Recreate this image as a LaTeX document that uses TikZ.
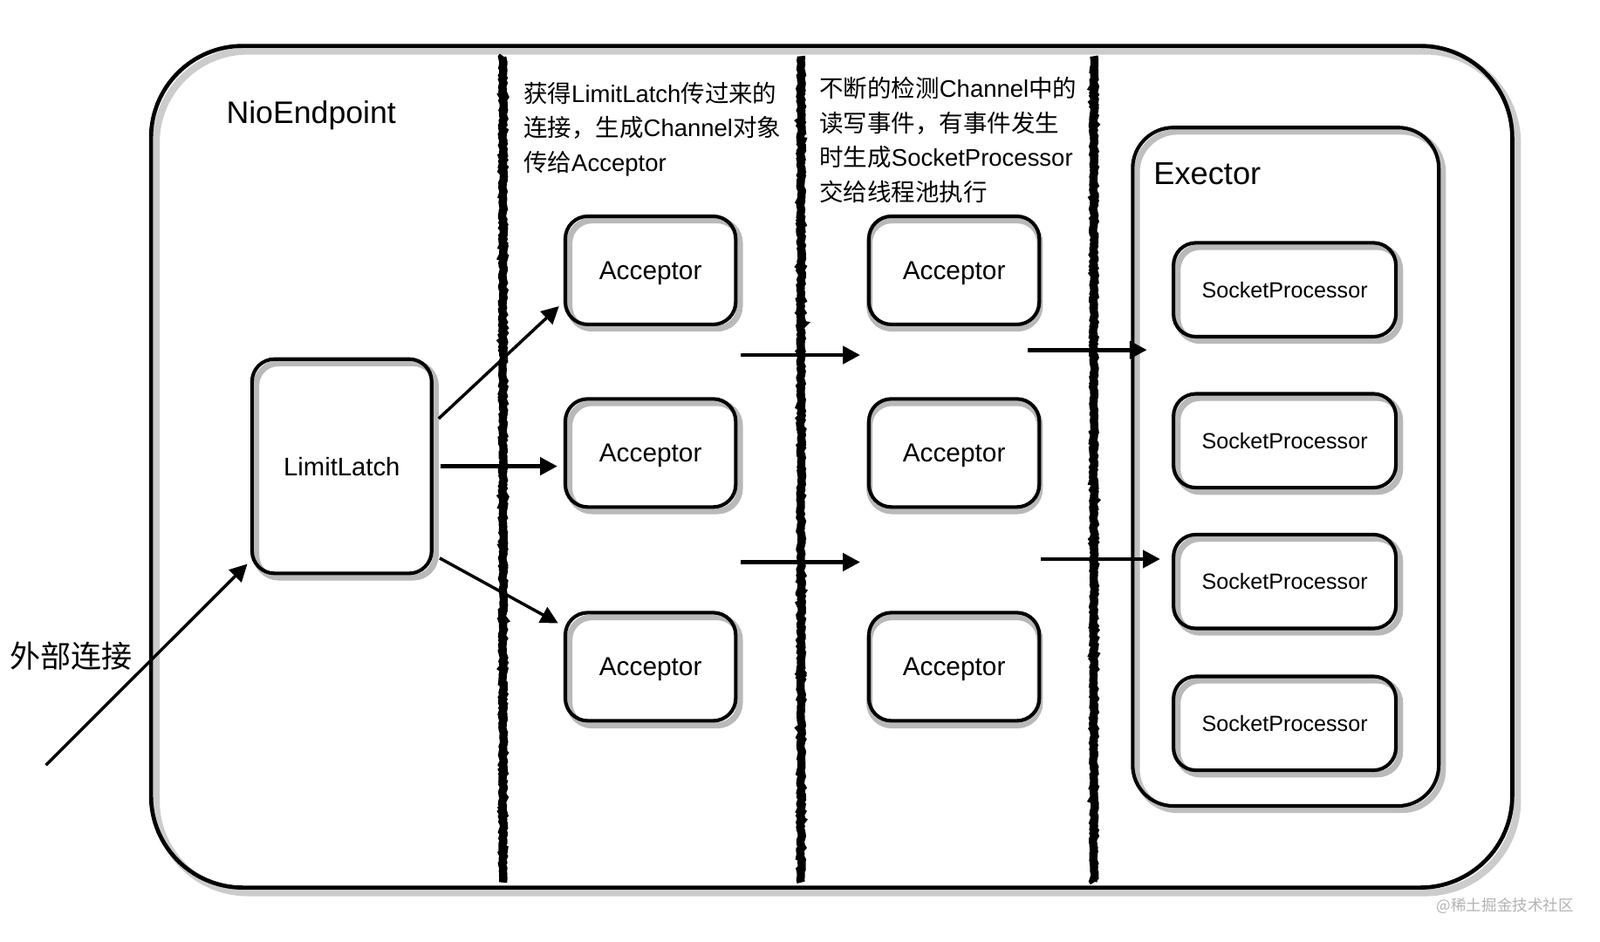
\documentclass[tikz,border=0pt]{standalone}
\usepackage{fontspec}
\setmainfont{Liberation Sans}
\newfontfamily\cjk{Noto Sans CJK SC}
\usetikzlibrary{calc,positioning,decorations.pathmorphing,arrows.meta}

\begin{document}
\begin{tikzpicture}[x=1pt,y=-1pt,
	box/.style={draw, line width=3.5pt, rounded corners=22pt, inner sep=0pt, text depth=0pt},
	shade/.style={draw=gray!55, line width=6pt, rounded corners=22pt},
	accbox/.style={box, minimum width=167pt, minimum height=106pt, font=\fontsize{25.5}{25.5}\selectfont},
	procbox/.style={box, minimum width=218pt, minimum height=92pt, font=\fontsize{21.5}{21.5}\selectfont},
	flow/.style={line width=4pt, -{Triangle[length=17pt,width=17pt]}},
	thinflow/.style={flow, line width=3pt},
	note/.style={align=left, anchor=north west, inner sep=0pt, font=\fontsize{23.5}{34}\selectfont}]
			\useasboundingbox (0,0) rectangle (1568,923);
			% outer frame
			\draw[gray!40, line width=7pt, rounded corners=90pt] (153,50) rectangle (1487,875);
			\draw[line width=4pt, rounded corners=90pt] (148,45) rectangle (1482,870);
			\foreach \x in {493,785,1072}
				\draw[line width=8pt, decorate, decoration={random steps, segment length=2pt, amplitude=1pt}] (\x,55) -- (\x,865);
			\node[font=\fontsize{30.5}{30.5}\selectfont] (nio) at (305,113) {NioEndpoint};
			\node[note] (note1) at (513,80) {{\cjk 获得}LimitLatch{\cjk 传过来的}\\{\cjk 连接，生成}Channel{\cjk 对象}\\{\cjk 传给}Acceptor};
			\node[note] (note2) at (803,75) {{\cjk 不断的检测}Channel{\cjk 中的}\\{\cjk 读写事件，有事件发生}\\{\cjk 时生成}SocketProcessor\\{\cjk 交给线程池执行}};
			% boxes
			\draw[shade] (251,356) rectangle (427,566);
			\node[box, minimum width=176pt, minimum height=210pt, font=\fontsize{25}{25}\selectfont] (latch) at (335,457) {LimitLatch};
			\foreach \x in {558,852}
				\foreach \y in {216,395,605}
					\draw[shade] (\x,\y) rectangle ++(167,106);
			\node[accbox] (a11) at (637.5,265) {Acceptor};
			\node[accbox] (a12) at (637.5,444) {Acceptor};
			\node[accbox] (a13) at (637.5,653.5) {Acceptor};
			\node[accbox, right=127pt of a11] (a21) {Acceptor};
			\node[accbox, right=127pt of a12] (a22) {Acceptor};
			\node[accbox, right=127pt of a13] (a23) {Acceptor};
			\draw[gray!50, line width=6pt, rounded corners=40pt] (1114,129) rectangle (1414,794);
			\draw[line width=3.5pt, rounded corners=40pt] (1110,125) rectangle (1410,790);
			\node[anchor=west, font=\fontsize{31}{31}\selectfont] (exec) at (1127,170) {Exector};
			\foreach \y/\n in {284/1,432/2,570/3,709/4}{
				\draw[shade] (1154,\y-42) rectangle ++(218,92);
				\node[procbox] (p\n) at (1259,\y) {SocketProcessor};
			}
			% arrows
			\coordinate (ext) at (45,750);
			\node[font=\fontsize{30}{30}\selectfont] (extlabel) at (70,643) {\cjk 外部连接};
			\draw[thinflow, shorten >=4pt] (ext) -- (latch.226);
			\draw[thinflow, shorten <=7pt, shorten >=6pt] (latch.25) -- (a11.200);
			\draw[flow, shorten <=7pt, shorten >=6pt] (latch.east) -- (latch.east -| a12.west);
			\draw[thinflow, shorten <=7pt, shorten >=6pt] (latch.-44) -- (a13.155);
			\coordinate (m1) at (726,348);
			\coordinate (n1) at (843,348);
			\coordinate (m2) at (726,551);
			\coordinate (n2) at (843,551);
			\coordinate (e1) at (1007,343);
			\coordinate (f1) at (1124,343);
			\coordinate (e2) at (1020,548);
			\coordinate (f2) at (1137,548);
			\draw[flow] (m1) -- (n1);
			\draw[flow] (m2) -- (n2);
			\draw[flow] (e1) -- (f1);
			\draw[flow] (e2) -- (f2);
			\node[gray!60, font=\fontsize{15}{15}\selectfont\cjk] (mark) at (1475,888) {@稀土掘金技术社区};
	\end{tikzpicture}
\end{document}
